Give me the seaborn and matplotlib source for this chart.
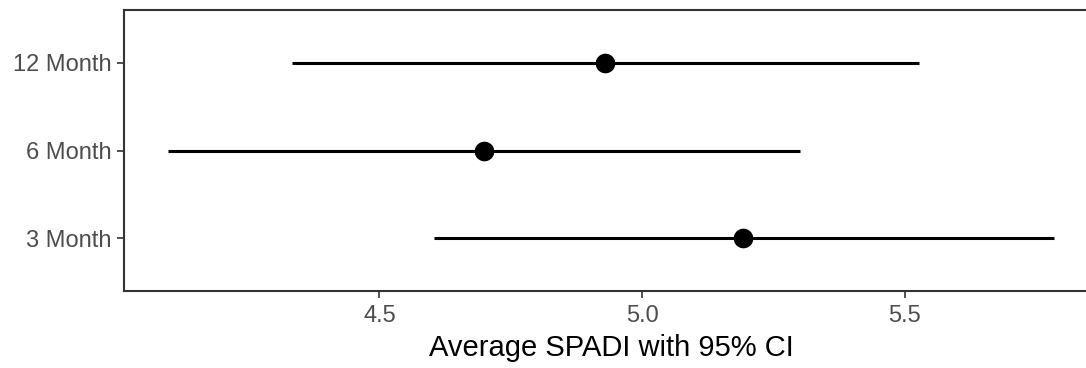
import pandas as pd
import matplotlib.pyplot as plt
import seaborn as sns

# values
timepoints = ['3 Month', '6 Month', '12 Month']
mean_spadi = [5.192, 4.700, 4.930]
ci_low = [4.603, 4.098, 4.333]
ci_high = [5.784, 5.300, 5.527]

df = pd.DataFrame({'time': timepoints, 'mean': mean_spadi,
                   'low': ci_low, 'high': ci_high})

sns.set_theme(style='white')
plt.rcParams['font.family'] = ['Liberation Sans', 'DejaVu Sans']

fig = plt.figure(figsize=(10.86, 3.68), dpi=100)
# panel runs past the right edge, as in the reference (cropped)
ax = fig.add_axes([0.1142, 0.2092, 0.8969, 0.7636])

ax.hlines(y=df['time'], xmin=df['low'], xmax=df['high'], color='black', linewidth=2.2, zorder=2)
sns.scatterplot(data=df, x='mean', y='time', ax=ax, color='black', s=200,
                edgecolor='black', linewidth=0, zorder=3)

ax.set_ylim(-0.6, len(timepoints) - 0.4)
span = max(ci_high) - min(ci_low)
ax.set_xlim(min(ci_low) - 0.05 * span, max(ci_high) + 0.05 * span)
ax.set_xticks([4.5, 5.0, 5.5])
ax.set_xticklabels(['4.5', '5.0', '5.5'])

ax.set_xlabel('Average SPADI with 95% CI', fontsize=21, color='black', labelpad=5)
ax.set_ylabel('')

for side in ax.spines.values():
    side.set_color('#333333')
    side.set_linewidth(1.5)
ax.spines['right'].set_visible(False)

ax.tick_params(axis='both', which='both', length=5, width=1.2, color='#333333',
               labelsize=17, labelcolor='#4D4D4D', bottom=True, left=True)
ax.tick_params(axis='x', pad=5)
ax.tick_params(axis='y', pad=4)
ax.grid(False)

fig.savefig('out.png', dpi=100)
